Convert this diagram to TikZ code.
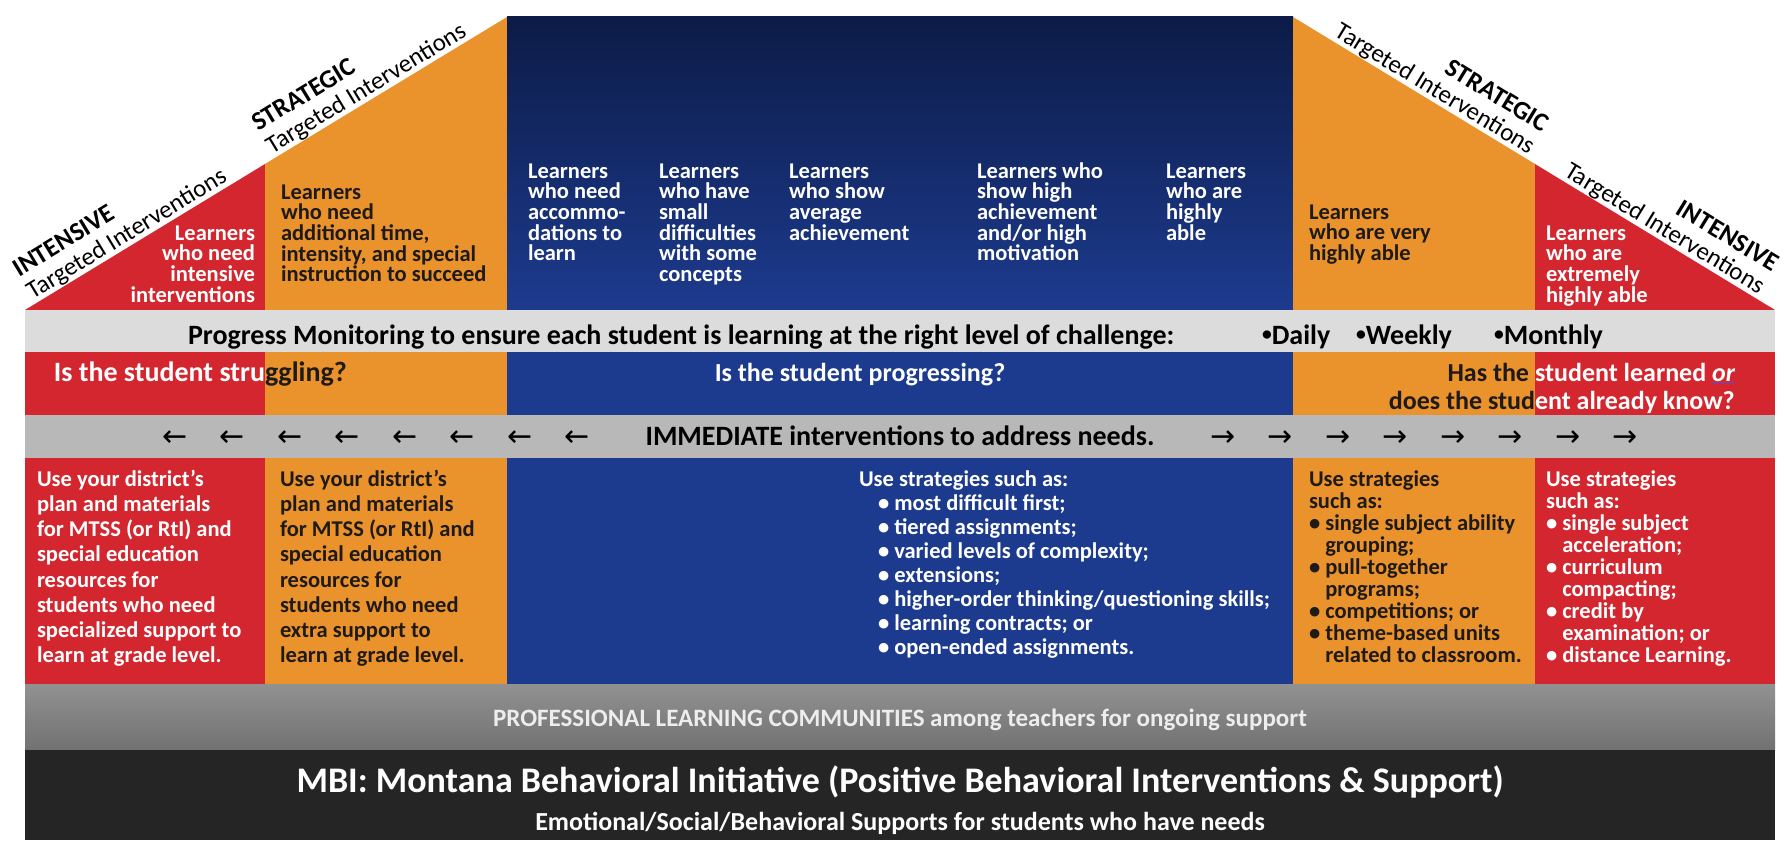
\documentclass[tikz,border=0pt]{standalone}
\usepackage{fontspec}
\setmainfont{Carlito}
\newfontfamily\symfont{DejaVu Sans}
\definecolor{cred}{HTML}{D3262F}
\definecolor{corange}{HTML}{EA922C}
\definecolor{cblue}{HTML}{1D3B8E}
\definecolor{cbluetop}{HTML}{0C1B47}
\definecolor{cgrayA}{HTML}{DCDCDC}
\definecolor{cgrayB}{HTML}{B8B8B8}
\definecolor{cgrayC}{HTML}{7E7E7E}
\definecolor{cblack}{HTML}{252525}
\definecolor{tdark}{HTML}{1E1A17}
\definecolor{ulblue}{HTML}{5A4FC8}
\newcommand\fs{\rule{0pt}{16pt}}
\newcommand\bul{\textbullet\ }
\newcommand\hind{\hphantom{\textbullet}\ }
\newcommand\sbul{\raisebox{0.12em}{\scalebox{0.7}{\textbullet}}}
\begin{document}
\begin{tikzpicture}[x=1pt,y=-1pt,
  every node/.style={inner sep=0pt, outer sep=0pt},
  toptxt/.style={font=\bfseries\fontsize{22.5}{20.7}\selectfont, align=left, anchor=north west},
  strat/.style={font=\bfseries\fontsize{22.5}{25.2}\selectfont, align=left, anchor=north west},
  stratR/.style={font=\bfseries\fontsize{22.5}{22.05}\selectfont, align=left, anchor=north west},
  stratB/.style={font=\bfseries\fontsize{22.5}{24}\selectfont, align=left, anchor=north west},
  qtxt/.style={font=\bfseries\fontsize{28}{30}\selectfont},
  qsm/.style={font=\bfseries\fontsize{26}{28}\selectfont},
  diag/.style={font=\fontsize{25}{26}\selectfont, inner sep=0.5pt, sloped, text=black},
  arr/.style={font=\symfont\fontsize{30}{30}\selectfont, text=black, anchor=base},
]
\useasboundingbox (0,0) rectangle (1784,840);
\fill[white] (0,0) rectangle (1784,840);

% ---------- top shapes ----------
\fill[cred] (25,310) -- (265,164) -- (265,310) -- cycle;
\fill[corange] (265,310) -- (265,164) -- (507,17) -- (507,310) -- cycle;
\shade[top color=cbluetop, bottom color=cblue] (507,17) rectangle (1293,310);
\fill[corange] (1293,17) -- (1535,164) -- (1535,310) -- (1293,310) -- cycle;
\fill[cred] (1535,164) -- (1775,310) -- (1535,310) -- cycle;

\coordinate (LA) at (25,310);
\coordinate (LB) at (507,17);
\coordinate (RA) at (1293,17);
\coordinate (RB) at (1775,310);

% ---------- bands ----------
\fill[cgrayA] (25,310) rectangle (1775,352);
\foreach \a/\b/\c in {25/265/cred,265/507/corange,507/1293/cblue,1293/1535/corange,1535/1775/cred}{
  \fill[\c] (\a,352) rectangle (\b,415);
  \fill[\c] (\a,458) rectangle (\b,684);
}
\fill[cgrayB] (25,415) rectangle (1775,458);
\shade[top color=cgrayC!85!white, bottom color=cgrayC!90!black] (25,684) rectangle (1775,750);
\fill[cblack] (25,750) rectangle (1775,840);

% ---------- diagonal labels ----------
\path (LA) -- (LB) node[diag, pos=0.02, anchor=south west, align=left] (intL)
  {{\bfseries\fontsize{26}{26}\selectfont INTENSIVE}\\Targeted Interventions};
\path (LA) -- (LB) node[diag, pos=0.517, anchor=south west, align=left] (strL)
  {{\bfseries\fontsize{26}{26}\selectfont STRATEGIC}\\Targeted Interventions};
\path (RA) -- (RB) node[diag, pos=0.485, anchor=south east, align=right] (strR)
  {{\bfseries\fontsize{26}{26}\selectfont STRATEGIC}\\Targeted Interventions};
\path (RA) -- (RB) node[diag, pos=0.962, anchor=south east, align=right] (intR)
  {{\bfseries\fontsize{26}{26}\selectfont INTENSIVE}\\Targeted Interventions};

% ---------- top cell texts ----------
\node[toptxt, anchor=north east, align=right, text=white] (t1) at (255,224)
  {\fs Learners\\who need\\intensive\\interventions};
\node[toptxt, text=tdark] (t2) at (281,183)
  {\fs Learners\\who need\\additional time,\\intensity, and special\\instruction to succeed};
\node[toptxt, text=white] (t3) at (528,162) {\fs Learners\\who need\\accommo-\\dations to\\learn};
\node[toptxt, text=white] (t4) at (659,162) {\fs Learners\\who have\\small\\difficulties\\with some\\concepts};
\node[toptxt, text=white] (t5) at (789,162) {\fs Learners\\who show\\average\\achievement};
\node[toptxt, text=white] (t6) at (977,162) {\fs Learners who\\show high\\achievement\\and/or high\\motivation};
\node[toptxt, text=white] (t7) at (1166,162) {\fs Learners\\who are\\highly\\able};
\node[toptxt, text=tdark] (t8) at (1309,203) {\fs Learners\\who are very\\highly able};
\node[toptxt, text=white] (t9) at (1546,224) {\fs Learners\\who are\\extremely\\highly able};

% ---------- progress monitoring ----------
\node[qtxt, anchor=base west, text=black] (pm) at (188,344)
  {Progress Monitoring to ensure each student is learning at the right level of challenge:};
\node[qtxt, anchor=base west, text=black] (pd) at (1262,344) {\sbul Daily};
\node[qtxt, anchor=base west, text=black] (pw) at (1356,344) {\sbul Weekly};
\node[qtxt, anchor=base west, text=black] (pmo) at (1494,344) {\sbul Monthly};

% ---------- question row ----------
\node[qtxt, anchor=base east, text=white] (q1a) at (265,381) {Is the student stru};
\node[qtxt, anchor=base west, text=tdark] (q1b) at (265,381) {ggling?};
\node[qsm, anchor=base, text=white] (q2) at (860,381) {Is the student progressing?};
\node[qsm, anchor=base east, text=tdark] (q3a) at (1535,381) {Has the\kern0.23em};
\node[qsm, anchor=base west, text=white] (q3b) at (1535,381)
  {student learned {\color{ulblue}\underline{\textcolor{white}{\textit{or}}}}};
\node[qsm, anchor=base east, text=tdark] (q3c) at (1535,409) {does the stud};
\node[qsm, anchor=base west, text=white] (q3d) at (1535,409) {ent already know?};

% ---------- arrows band ----------
\foreach \x [count=\i] in {175,232,290,347,405,462,520,577}{
  \node[arr] (la\i) at (\x,446) {←};
}
\node[qtxt, anchor=base, text=black] (imm) at (900,445) {IMMEDIATE interventions to address needs.};
\foreach \x [count=\i] in {1223,1280,1338,1395,1453,1510,1568,1625}{
  \node[arr] (ra\i) at (\x,446) {→};
}

% ---------- strategies row ----------
\node[strat, text=white] (s1) at (37,470)
  {\fs Use your district's\\plan and materials\\for MTSS (or RtI) and\\special education\\resources for\\students who need\\specialized support to\\learn at grade level.};
\node[strat, text=tdark] (s2) at (280,470)
  {\fs Use your district's\\plan and materials\\for MTSS (or RtI) and\\special education\\resources for\\students who need\\extra support to\\learn at grade level.};
\node[stratB, text=white] (s3) at (859,470)
  {\fs Use strategies such as:\\
   \hspace*{19pt}\bul most difficult first;\\
   \hspace*{19pt}\bul tiered assignments;\\
   \hspace*{19pt}\bul varied levels of complexity;\\
   \hspace*{19pt}\bul extensions;\\
   \hspace*{19pt}\bul higher-order thinking/questioning skills;\\
   \hspace*{19pt}\bul learning contracts; or\\
   \hspace*{19pt}\bul open-ended assignments.};
\node[stratR, text=tdark] (s4) at (1309,470)
  {\fs Use strategies\\such as:\\\bul single subject ability\\\hind grouping;\\\bul pull-together\\\hind programs;\\\bul competitions; or\\\bul theme-based units\\\hind related to classroom.};
\node[stratR, text=white] (s5) at (1546,470)
  {\fs Use strategies\\such as:\\\bul single subject\\\hind acceleration;\\\bul curriculum\\\hind compacting;\\\bul credit by\\\hind examination; or\\\bul distance Learning.};

% ---------- bottom bands text ----------
\node[font=\bfseries\fontsize{25}{27}\selectfont, text=white!93!black, anchor=base] (plc) at (900,726)
  {PROFESSIONAL LEARNING COMMUNITIES among teachers for ongoing support};
\node[font=\bfseries\fontsize{36}{38}\selectfont, text=white, anchor=base] (mbi) at (900,792)
  {MBI: Montana Behavioral Initiative (Positive Behavioral Interventions \& Support)};
\node[font=\bfseries\fontsize{26}{28}\selectfont, text=white, anchor=base] (emo) at (900,830)
  {Emotional/Social/Behavioral Supports for students who have needs};
\end{tikzpicture}
\end{document}
